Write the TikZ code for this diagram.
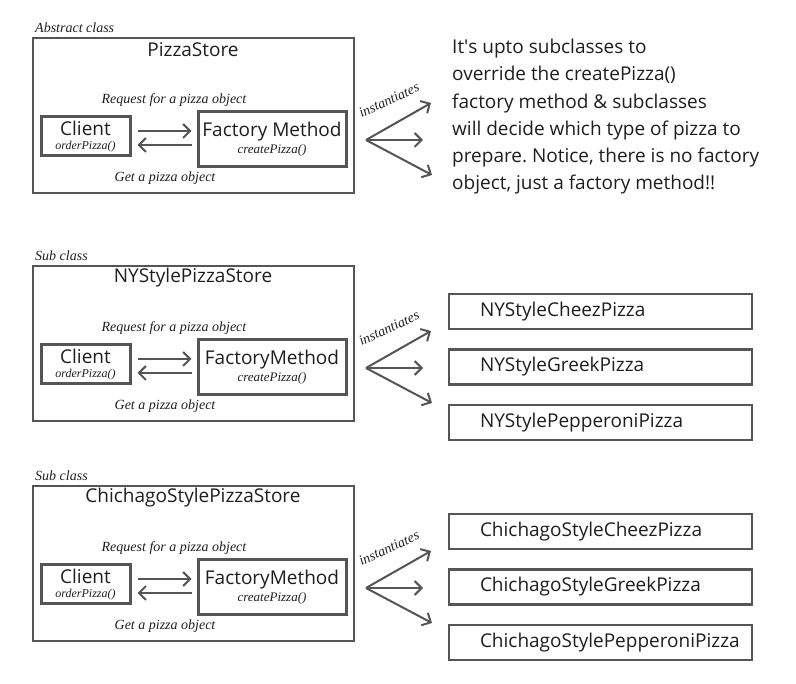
\documentclass[tikz,border=0pt]{standalone}
\usepackage{fontspec}
\setmainfont{Open Sans}
\newfontfamily\lblfont{Liberation Serif}
\usetikzlibrary{arrows.meta}
\definecolor{linegray}{HTML}{555555}
\definecolor{textgray}{HTML}{1E1E1E}
\newcommand{\notefont}{\lblfont\itshape\fontsize{14}{16}\selectfont}
\tikzset{
  store/.style={draw=linegray,line width=2.5pt,minimum width=321pt,minimum height=155pt},
  part/.style={draw=linegray,line width=3pt,align=center,inner sep=0pt},
  pizza/.style={draw=linegray,line width=2.2pt,minimum height=35pt,inner xsep=31pt,
    text width=241pt,align=left},
  note/.style={font=\notefont},
  flow/.style={draw=linegray,line width=2pt,->}
}
\begin{document}
\begin{tikzpicture}[x=1pt,y=-1pt,>={Straight Barb[length=7pt,width=14pt]},
  text=textgray,font=\fontsize{19}{23}\selectfont]
\useasboundingbox (0,0) rectangle (796,684);
\foreach \p/\dy/\tag/\store/\fm in {1/0/Abstract class/PizzaStore/Factory Method,
  2/228/Sub class/NYStylePizzaStore/FactoryMethod,
  3/448/Sub class/ChichagoStylePizzaStore/FactoryMethod}{
  \node[store] (st\p) at (193.5,115.5+\dy) {};
  \node[note,anchor=west,inner sep=0pt] (tg\p) at (35,28+\dy) {\tag};
  \node (tt\p) at (193,50+\dy) {\store};
  \node[part,minimum width=89pt,minimum height=39pt] (cl\p) at (85.5,136.5+\dy)
    {Client\\[-9pt]{\notefont\fontsize{12}{12}\selectfont orderPizza()}};
  \node[part,minimum width=148pt,minimum height=55pt] (fm\p) at (272,139.5+\dy)
    {\fm\\[-6pt]{\notefont\fontsize{13}{13}\selectfont createPizza()}};
  \node[note] (rq\p) at (174,100+\dy) {Request for a pizza object};
  \node[note] (gt\p) at (165,178+\dy) {Get a pizza object};
  \draw[flow] ([xshift=6pt,yshift=5.5pt]cl\p.east) -- ([xshift=-5pt,yshift=8.5pt]fm\p.west);
  \draw[flow] ([xshift=-5pt,yshift=-5.5pt]fm\p.west) -- ([xshift=6pt,yshift=-8.5pt]cl\p.east);
  \coordinate (o\p) at (366,140+\dy);
  \coordinate (a\p) at (431,103+\dy);
  \coordinate (b\p) at (423,140+\dy);
  \coordinate (c\p) at (432,175+\dy);
  \draw[flow] (o\p) -- (a\p);
  \draw[flow] (o\p) -- (b\p);
  \draw[flow] (o\p) -- (c\p);
  \node[note,rotate=25,inner sep=0pt] (in\p) at (389,100+\dy) {instantiates};
}
\node[anchor=north west,align=left,inner sep=0pt,font=\fontsize{19}{27.2}\selectfont]
  (txt) at (452,39) {It\textquotesingle s upto subclasses to\\override the createPizza()\\
  factory method \& subclasses\\will decide which type of pizza to\\
  prepare.\ Notice, there is no factory\\object, just a factory method!!};
\foreach \p/\dy/\city in {2/228/NYStyle,3/448/ChichagoStyle}{
  \foreach \k/\kind in {0/Cheez,1/Greek,2/Pepperoni}{
    \node[pizza] (pz\p\k) at (600.5,83.5+\dy+55.5*\k) {\city\kind Pizza};
  }
}
\end{tikzpicture}
\end{document}
